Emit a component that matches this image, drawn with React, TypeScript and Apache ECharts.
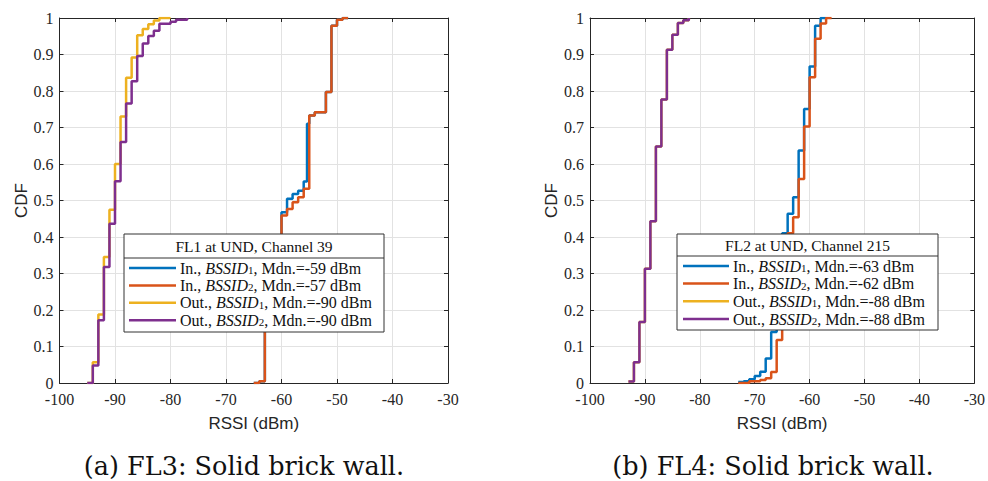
import React, { useEffect, useRef } from 'react';
import * as echarts from 'echarts';

// ---------- data ----------
const rssiMin = -100;
const rssiMax = -30;
const rssiStep = 10;
const cdfStep = 0.1;

const seriesColors = ['#0072BD', '#D95319', '#EDB120', '#7E2F8E'];
const seriesPrefixes = ['In.', 'In.', 'Out.', 'Out.'];
const bssidIndex = ['1', '2', '1', '2'];

// Panel (a) FL3
const fl3Title = 'FL1 at UND, Channel 39';
const fl3Caption = '(a) FL3: Solid brick wall.';
const fl3Medians = [-59, -57, -90, -90];
const fl3In1Rssi = [-65, -64, -63, -62, -61, -60, -59, -58, -57, -56, -55.4, -55, -54, -52, -51, -50, -49, -48];
const fl3In1Cdf = [0, 0.005, 0.35, 0.38, 0.4, 0.468, 0.505, 0.518, 0.527, 0.552, 0.71, 0.733, 0.742, 0.797, 0.979, 0.995, 1, 1];
const fl3In2Rssi = [-65, -64, -63, -62, -61, -60, -59, -58, -57, -56, -55, -54, -52, -51, -50, -49, -48];
const fl3In2Cdf = [0, 0.005, 0.33, 0.37, 0.39, 0.459, 0.477, 0.495, 0.509, 0.532, 0.733, 0.742, 0.797, 0.979, 0.995, 1, 1];
const fl3Out1Rssi = [-95, -94, -93, -92, -91, -90, -89, -88, -87, -86, -85, -84, -83, -82, -80];
const fl3Out1Cdf = [0, 0.057, 0.188, 0.345, 0.475, 0.6, 0.73, 0.836, 0.892, 0.953, 0.97, 0.983, 0.993, 1, 1];
const fl3Out2Rssi = [-95, -94, -93, -92, -91, -90, -89, -88, -87, -86, -85, -84, -83, -82, -80, -79, -77];
const fl3Out2Cdf = [0, 0.048, 0.172, 0.318, 0.436, 0.553, 0.66, 0.766, 0.827, 0.896, 0.93, 0.951, 0.965, 0.984, 0.99, 0.995, 1];

// Panel (b) FL4
const fl4Title = 'FL2 at UND, Channel 215';
const fl4Caption = '(b) FL4: Solid brick wall.';
const fl4Medians = [-63, -62, -88, -88];
const fl4In1Rssi = [-73, -72, -71, -70, -69, -68, -67, -66, -65, -64, -63, -62, -61, -60, -59, -58, -57];
const fl4In1Cdf = [0.003, 0.005, 0.01, 0.019, 0.031, 0.067, 0.14, 0.3, 0.41, 0.464, 0.509, 0.637, 0.751, 0.867, 0.979, 1, 1];
const fl4In2Rssi = [-73, -71, -69, -68, -67, -66, -65, -64, -63, -62, -61, -60, -59, -58, -57, -56];
const fl4In2Cdf = [0, 0.005, 0.008, 0.013, 0.03, 0.118, 0.33, 0.41, 0.454, 0.559, 0.703, 0.838, 0.943, 0.985, 1, 1];
const fl4Out1Rssi = [-93, -92, -91, -90, -89, -88, -87, -86, -85, -84, -83, -82];
const fl4Out1Cdf = [0.004, 0.057, 0.167, 0.313, 0.443, 0.648, 0.777, 0.913, 0.954, 0.986, 0.994, 1];
const fl4Out2Rssi = [-93, -92, -91, -90, -89, -88, -87, -86, -85, -84, -83, -82];
const fl4Out2Cdf = [0.004, 0.057, 0.167, 0.313, 0.443, 0.648, 0.777, 0.913, 0.954, 0.986, 0.994, 1];

// ---------- styling ----------
const axisColor = '#262626';
const gridColor = '#e2e2e2';
const serif = 'Liberation Serif';
const sans = 'Liberation Sans';
const legendFont = 16;

const pair = (xs: number[], ys: number[]) => xs.map((x, i) => [x, ys[i]]);

const panels = [
  {
    grid: { left: 59.5, top: 18, width: 388.5, height: 365 },
    series: [pair(fl3In1Rssi, fl3In1Cdf), pair(fl3In2Rssi, fl3In2Cdf), pair(fl3Out1Rssi, fl3Out1Cdf), pair(fl3Out2Rssi, fl3Out2Cdf)],
    title: fl3Title,
    medians: fl3Medians,
    caption: fl3Caption,
    legend: { x: 124, y: 234, w: 260, h: 98, sep: 258, titleY: 246, rowY: [268, 285.4, 302.8, 320.2], l1: 129, l2: 176, tx: 180 },
    captionX: 244,
  },
  {
    grid: { left: 590, top: 18, width: 388, height: 365 },
    series: [pair(fl4In1Rssi, fl4In1Cdf), pair(fl4In2Rssi, fl4In2Cdf), pair(fl4Out1Rssi, fl4Out1Cdf), pair(fl4Out2Rssi, fl4Out2Cdf)],
    title: fl4Title,
    medians: fl4Medians,
    caption: fl4Caption,
    legend: { x: 677, y: 234, w: 261, h: 96, sep: 256, titleY: 245, rowY: [266, 283.6, 301.3, 319], l1: 683, l2: 729, tx: 733 },
    captionX: 773,
  },
];

function buildOption() {
  const grids: any[] = [];
  const xAxes: any[] = [];
  const yAxes: any[] = [];
  const series: any[] = [];
  const graphics: any[] = [];

  panels.forEach((p, gi) => {
    grids.push({ ...p.grid, containLabel: false });
    ['bottom', 'top'].forEach((pos) => {
      const main = pos === 'bottom';
      xAxes.push({
        type: 'value',
        gridIndex: gi,
        position: pos,
        min: rssiMin,
        max: rssiMax,
        interval: rssiStep,
        axisLine: { show: true, onZero: false, lineStyle: { color: axisColor, width: 1 } },
        axisTick: { show: true, inside: true, length: 4, lineStyle: { color: axisColor } },
        axisLabel: main
          ? { show: true, margin: 9, color: axisColor, fontFamily: serif, fontSize: 16, lineHeight: 14 }
          : { show: false },
        splitLine: main ? { show: true, lineStyle: { color: gridColor, width: 1 } } : { show: false },
        name: main ? 'RSSI (dBm)' : '',
        nameLocation: 'middle',
        nameGap: 32,
        nameTextStyle: { fontFamily: sans, fontSize: 17, color: axisColor },
      });
    });
    ['left', 'right'].forEach((pos) => {
      const main = pos === 'left';
      yAxes.push({
        type: 'value',
        gridIndex: gi,
        position: pos,
        min: 0,
        max: 1,
        interval: cdfStep,
        axisLine: { show: true, onZero: false, lineStyle: { color: axisColor, width: 1 } },
        axisTick: { show: true, inside: true, length: 4, lineStyle: { color: axisColor } },
        axisLabel: main
          ? {
              show: true,
              margin: 6,
              color: axisColor,
              fontFamily: serif,
              fontSize: 16,
              lineHeight: 13,
              formatter: (v: number) => String(+v.toFixed(1)),
            }
          : { show: false },
        splitLine: main ? { show: true, lineStyle: { color: gridColor, width: 1 } } : { show: false },
        name: main ? 'CDF' : '',
        nameLocation: 'middle',
        nameGap: 22,
        nameRotate: 90,
        nameTextStyle: { fontFamily: sans, fontSize: 17, color: axisColor },
      });
    });

    p.series.forEach((data, si) => {
      series.push({
        type: 'line',
        name: `${gi}-${si}`,
        xAxisIndex: gi * 2,
        yAxisIndex: gi * 2,
        data,
        step: 'end',
        showSymbol: false,
        symbol: 'none',
        silent: true,
        z: 2 + si,
        lineStyle: { width: 2.5, color: seriesColors[si] },
        itemStyle: { color: seriesColors[si] },
      });
    });

    const L = p.legend;
    const Z = 100;
    const children: any[] = [
      {
        type: 'rect',
        z: Z,
        shape: { x: L.x, y: L.y, width: L.w, height: L.h },
        style: { fill: '#ffffff', stroke: '#333333', lineWidth: 1 },
      },
      {
        type: 'line',
        z: Z + 1,
        shape: { x1: L.x, y1: L.sep, x2: L.x + L.w, y2: L.sep },
        style: { stroke: '#333333', lineWidth: 1 },
      },
      {
        type: 'text',
        z: Z + 1,
        x: L.x + L.w / 2,
        y: L.titleY,
        style: {
          text: p.title,
          textAlign: 'center',
          textVerticalAlign: 'middle',
          fontFamily: serif,
          fontSize: 15.5,
          fill: '#111',
        },
      },
    ];
    seriesPrefixes.forEach((pre, si) => {
      const yy = L.rowY[si];
      children.push({
        type: 'line',
        z: Z + 1,
        shape: { x1: L.l1, y1: yy, x2: L.l2, y2: yy },
        style: { stroke: seriesColors[si], lineWidth: 2.5 },
      });
      children.push({
        type: 'text',
        z: Z + 1,
        x: L.tx,
        y: yy,
        style: {
          text: `{n|${pre}, }{i|BSSID}{s|${bssidIndex[si]}}{n|, Mdn.=${p.medians[si]} dBm}`,
          textAlign: 'left',
          textVerticalAlign: 'middle',
          fontFamily: serif,
          fontSize: legendFont,
          lineHeight: 15,
          fill: '#111',
          rich: {
            n: { fontFamily: serif, fontSize: legendFont, lineHeight: 15, fill: '#111' },
            i: { fontFamily: serif, fontSize: legendFont, fontStyle: 'italic', lineHeight: 15, fill: '#111' },
            s: { fontFamily: serif, fontSize: 11, lineHeight: 7, verticalAlign: 'bottom', fill: '#111' },
          },
        },
      });
    });
    graphics.push({ type: 'group', z: Z, children });
    graphics.push({
      type: 'text',
      x: p.captionX,
      y: 466,
      z: Z,
      style: {
        text: p.caption,
        textAlign: 'center',
        textVerticalAlign: 'middle',
        fontFamily: 'DejaVu Serif',
        fontSize: 25.5,
        fill: '#111',
      },
    });
  });

  return {
    animation: false,
    backgroundColor: '#ffffff',
    grid: grids,
    xAxis: xAxes,
    yAxis: yAxes,
    series,
    graphic: graphics,
  };
}

export default function App() {
  const ref = useRef<HTMLDivElement>(null);
  useEffect(() => {
    if (!ref.current) return;
    const chart = echarts.init(ref.current, undefined, { renderer: 'svg' });
    chart.setOption(buildOption() as any);
    return () => chart.dispose();
  }, []);
  return (
    <div
      ref={ref}
      style={{ position: 'fixed', left: 0, top: 0, width: 988, height: 481, background: '#fff' }}
    />
  );
}
